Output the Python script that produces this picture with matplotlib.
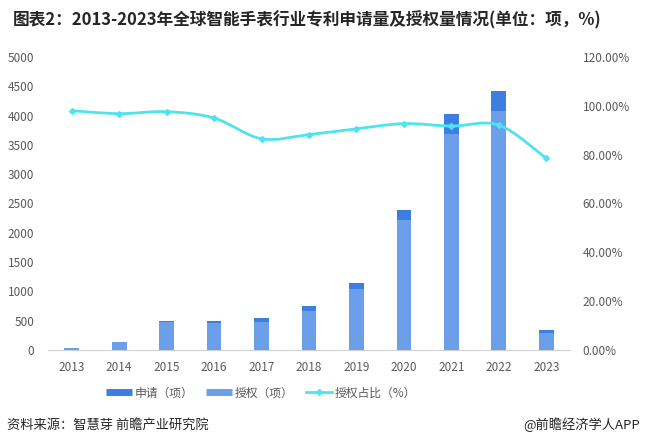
import numpy as np
import matplotlib.pyplot as plt
from matplotlib.path import Path
from matplotlib.patches import PathPatch
from matplotlib.lines import Line2D

plt.rcParams['font.family'] = ['Noto Sans CJK SC', 'DejaVu Sans']

years = ['2013', '2014', '2015', '2016', '2017', '2018',
         '2019', '2020', '2021', '2022', '2023']
apply_cnt = [40, 142, 495, 495, 552, 757, 1149, 2389, 4027, 4420, 341]
grant_cnt = [40, 142, 478, 465, 478, 672, 1047, 2218, 3686, 4078, 284]
grant_pct = [98.0, 96.8, 97.6, 95.0, 86.5, 88.2, 90.6, 92.7, 91.7, 92.1, 78.5]

c_apply = '#3d7fe0'
c_grant = '#6b9fea'
c_line = '#4fe3ef'
c_text = '#595959'

fig = plt.figure(figsize=(6.45, 4.48), dpi=100)
ax = fig.add_axes([0.0744, 0.2188, 0.8093, 0.654])
ax2 = ax.twinx()

x = np.arange(len(years))
w = 0.31
ax.bar(x, apply_cnt, width=w, color=c_apply, zorder=2)
ax.bar(x, grant_cnt, width=w, color=c_grant, zorder=3)

# smoothed line (bezier through the data points, like excel)
pts = np.column_stack([x, grant_pct]).astype(float)
verts = [pts[0]]
codes = [Path.MOVETO]
n = len(pts)
for i in range(n - 1):
    p0 = pts[max(i - 1, 0)]
    p1 = pts[i]
    p2 = pts[i + 1]
    p3 = pts[min(i + 2, n - 1)]
    c1 = p1 + (p2 - p0) / 6
    c2 = p2 - (p3 - p1) / 6
    verts += [c1, c2, p2]
    codes += [Path.CURVE4] * 3
ax2.add_patch(PathPatch(Path(verts, codes), fill=False, edgecolor=c_line,
                        lw=2.0, zorder=4))
ax2.plot(x, grant_pct, ls='none', marker='D', ms=3, color=c_line, zorder=5)

ax.set_xlim(-0.5, len(years) - 0.5)
ax.set_ylim(0, 5000)
ax.set_yticks(range(0, 5001, 500))
ax2.set_ylim(0, 120)
ax2.set_yticks(range(0, 121, 20))
ax2.set_yticklabels(['%.2f%%' % v for v in range(0, 121, 20)])
ax.set_xticks(x)
ax.set_xticklabels(years)

for a in (ax, ax2):
    for s in a.spines.values():
        s.set_visible(False)
    a.tick_params(length=0, labelsize=8.5, colors=c_text)
ax.spines['bottom'].set_visible(True)
ax.spines['bottom'].set_color('#d0d0d0')
ax.tick_params(axis='y', pad=10)
ax.tick_params(axis='x', pad=8)
ax2.tick_params(axis='y', pad=9)

handles = [Line2D([], [], color=c_apply, lw=5, solid_capstyle='butt'),
           Line2D([], [], color=c_grant, lw=5, solid_capstyle='butt'),
           Line2D([], [], color=c_line, lw=2, marker='D', ms=3)]
labels = ['申请（项）', '授权（项）', '授权占比（%）']
fig.legend(handles, labels, loc='center', bbox_to_anchor=(0.405, 0.123),
           ncol=3, frameon=False, fontsize=8.5, handlelength=2.2,
           handletextpad=0.2, columnspacing=1.1, labelcolor=c_text)

fig.text(0.476, 0.955, '图表2：2013-2023年全球智能手表行业专利申请量及授权量情况(单位：项，%)',
         ha='center', va='center', fontsize=12, fontweight='bold', color='#262626')
fig.text(0.011, 0.051, '资料来源：智慧芽 前瞻产业研究院', ha='left', va='center',
         fontsize=9.5, color='#262626')
fig.text(0.993, 0.051, '@前瞻经济学人APP', ha='right', va='center',
         fontsize=9.5, color='#262626')

fig.savefig('out.png', dpi=100)
